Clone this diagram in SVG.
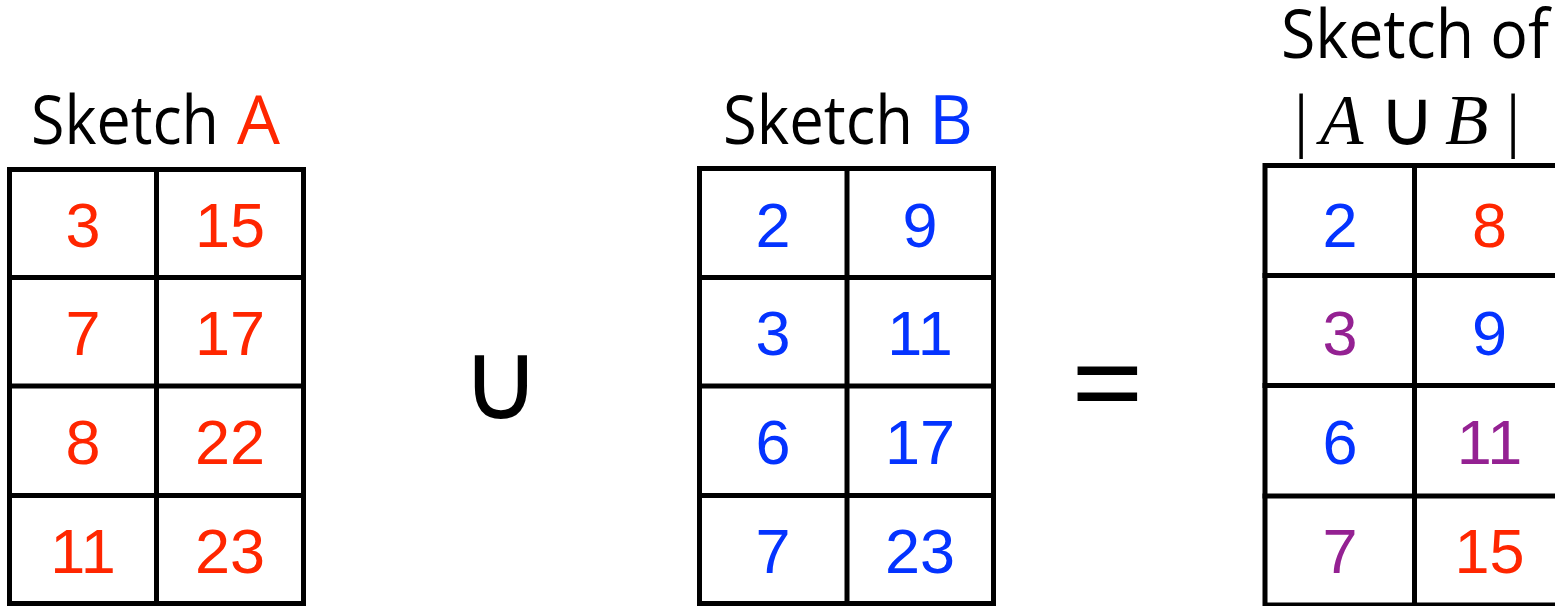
<svg xmlns="http://www.w3.org/2000/svg" width="1555" height="606" viewBox="0 0 1555 606">
<style>
.grid{fill:none;stroke:#000;stroke-width:5;stroke-linecap:square}
.title{font-family:"Open Sans","Noto Sans",sans-serif;font-size:68px;fill:#000}
.num{font-family:"Liberation Sans",Arial,sans-serif;font-size:63px;text-anchor:middle}
.r{fill:#FF2600}
.b{fill:#0433FF}
.p{fill:#942192}
.math{font-family:"Liberation Serif","Times New Roman",serif;font-size:71px;fill:#000}
.op{font-family:"DejaVu Sans",sans-serif;fill:#000;text-anchor:middle}
</style>
<rect width="1555" height="606" fill="#fff"/>
<g id="connectors"/>
<g id="title-a">
<text class="title" x="31" y="144" textLength="188" lengthAdjust="spacingAndGlyphs">Sketch</text>
<text class="title r" x="237" y="144">A</text>
</g>
<g id="sketch-a">
<rect class="grid" x="9.5" y="169.5" width="294" height="434"/>
<path class="grid" d="M156.5 169.5V603.5M9.5 277.5H303.5M9.5 386H303.5M9.5 495.5H303.5"/>
<text class="num r" x="83" y="246.5">3</text><text class="num r" x="230" y="246.5">15</text>
<text class="num r" x="83" y="355">7</text><text class="num r" x="230" y="355">17</text>
<text class="num r" x="83" y="464">8</text><text class="num r" x="230" y="464">22</text>
<text class="num r" x="83" y="573">11</text><text class="num r" x="230" y="573">23</text>
</g>
<g id="union-op"><text class="op" x="501" y="419" font-size="110">∪</text></g>
<g id="title-b">
<text class="title" x="723" y="144" textLength="190" lengthAdjust="spacingAndGlyphs">Sketch</text>
<text class="title b" x="929" y="144">B</text>
</g>
<g id="sketch-b">
<rect class="grid" x="699.5" y="168.5" width="294" height="435"/>
<path class="grid" d="M847 168.5V603.5M699.5 277.5H993.5M699.5 386H993.5M699.5 495.5H993.5"/>
<text class="num b" x="773" y="246.5">2</text><text class="num b" x="920" y="246.5">9</text>
<text class="num b" x="773" y="355">3</text><text class="num b" x="920" y="355">11</text>
<text class="num b" x="773" y="464">6</text><text class="num b" x="920" y="464">17</text>
<text class="num b" x="773" y="573">7</text><text class="num b" x="920" y="573">23</text>
</g>
<g id="equals-op"><text class="op" x="1107.5" y="430" font-size="130" style="font-family:'Open Sans',sans-serif">=</text></g>
<g id="title-c">
<text class="title" x="1281" y="58" textLength="268" lengthAdjust="spacingAndGlyphs">Sketch of</text>
<text class="math" x="1301" y="144" text-anchor="middle">|</text>
<text class="math" x="1320" y="144" font-style="italic">A</text>
<text class="op" x="1407" y="145" font-size="78">∪</text>
<text class="math" x="1445" y="144" font-style="italic">B</text>
<text class="math" x="1513" y="144" text-anchor="middle">|</text>
</g>
<g id="sketch-c">
<rect class="grid" x="1265" y="165.5" width="299" height="439.5"/>
<path class="grid" d="M1414.5 165.5V605M1265 275.5H1564M1265 385.5H1564M1265 496H1564"/>
<text class="num b" x="1340" y="246.5">2</text><text class="num r" x="1489.5" y="246.5">8</text>
<text class="num p" x="1340" y="355">3</text><text class="num b" x="1489.5" y="355">9</text>
<text class="num b" x="1340" y="464">6</text><text class="num p" x="1489.5" y="464">11</text>
<text class="num p" x="1340" y="573">7</text><text class="num r" x="1489.5" y="573">15</text>
</g>
</svg>
